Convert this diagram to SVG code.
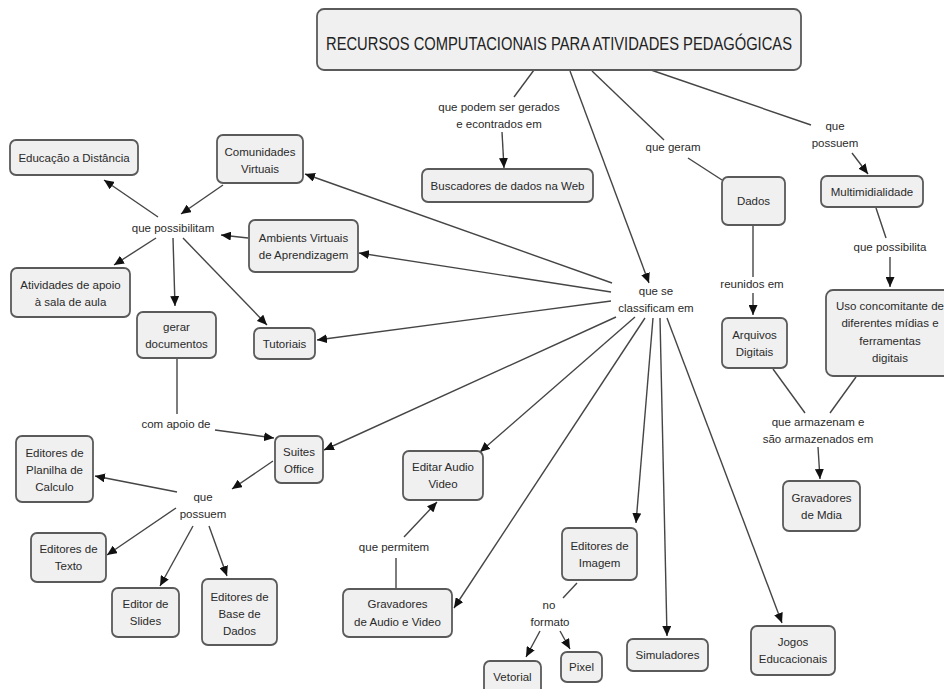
<svg xmlns="http://www.w3.org/2000/svg" width="944" height="689" viewBox="0 0 944 689">
<style>
.n rect{fill:#f0f0f0;stroke:#5a5a5a;stroke-width:1.8}
text{font-family:"Liberation Sans",Arial,sans-serif;font-size:11.5px;fill:#2a2a2a;text-anchor:middle}
.t{font-size:18px;fill:#222}
.c line{stroke:#454545;stroke-width:1.4;fill:none}
.c .a{marker-end:url(#ar)}
</style>
<defs>
<marker id="ar" markerUnits="userSpaceOnUse" markerWidth="11" markerHeight="9" refX="10" refY="4.5" orient="auto">
<path d="M0,0 L10,4.5 L0,9 z" fill="#111"/>
</marker>
</defs>
<rect width="944" height="689" fill="#fff"/>
<g class="c" id="connectors">
<line x1="534" y1="70" x2="514" y2="97"/>
<line class="a" x1="502" y1="132" x2="504" y2="168"/>
<line class="a" x1="570" y1="71" x2="649" y2="283"/>
<line x1="592" y1="71" x2="664" y2="140"/>
<line x1="688" y1="158" x2="722" y2="180"/>
<line x1="651" y1="70" x2="811" y2="125"/>
<line class="a" x1="852" y1="153" x2="868" y2="174"/>
<line x1="753" y1="225" x2="753" y2="277"/>
<line class="a" x1="753" y1="293" x2="753" y2="315"/>
<line x1="876" y1="208" x2="886" y2="238"/>
<line class="a" x1="890" y1="257" x2="890" y2="287"/>
<line x1="773" y1="369" x2="805" y2="413"/>
<line x1="856" y1="377" x2="830" y2="413"/>
<line class="a" x1="818" y1="447" x2="820" y2="479"/>
<line class="a" x1="612" y1="283" x2="305" y2="174"/>
<line class="a" x1="611" y1="292" x2="359" y2="253"/>
<line class="a" x1="611" y1="301" x2="317" y2="340"/>
<line class="a" x1="616" y1="317" x2="324" y2="450"/>
<line class="a" x1="635" y1="317" x2="480" y2="452"/>
<line class="a" x1="645" y1="318" x2="454" y2="608"/>
<line class="a" x1="653" y1="318" x2="636" y2="523"/>
<line class="a" x1="660" y1="318" x2="667" y2="636"/>
<line class="a" x1="667" y1="318" x2="782" y2="623"/>
<line class="a" x1="223" y1="185" x2="181" y2="214"/>
<line class="a" x1="158" y1="217" x2="104" y2="180"/>
<line class="a" x1="248" y1="238" x2="221" y2="235"/>
<line class="a" x1="156" y1="238" x2="114" y2="265"/>
<line class="a" x1="173" y1="238" x2="175" y2="306"/>
<line class="a" x1="183" y1="238" x2="267" y2="325"/>
<line x1="177" y1="358" x2="177" y2="414"/>
<line class="a" x1="215" y1="430" x2="274" y2="438"/>
<line class="a" x1="273" y1="461" x2="232" y2="489"/>
<line class="a" x1="177" y1="492" x2="95" y2="476"/>
<line class="a" x1="176" y1="508" x2="107" y2="555"/>
<line class="a" x1="193" y1="526" x2="160" y2="586"/>
<line class="a" x1="209" y1="526" x2="227" y2="576"/>
<line x1="396" y1="589" x2="396" y2="558"/>
<line class="a" x1="404" y1="537" x2="437" y2="502"/>
<line x1="577" y1="583" x2="563" y2="598"/>
<line class="a" x1="540" y1="631" x2="526" y2="657"/>
<line class="a" x1="560" y1="631" x2="570" y2="649"/>
</g>
<g id="title" class="n"><rect x="317" y="9" width="484" height="61" rx="7"/><text class="t" x="559" y="50" textLength="466" lengthAdjust="spacingAndGlyphs">RECURSOS COMPUTACIONAIS PARA ATIVIDADES PEDAGÓGICAS</text></g>
<g id="educacao" class="n"><rect x="10" y="140" width="128" height="35" rx="6"/><text x="74" y="162">Educação a Distância</text></g>
<g id="comunidades" class="n"><rect x="217" y="135" width="86" height="48" rx="6"/><text x="260" y="156">Comunidades<tspan x="260" dy="16.5">Virtuais</tspan></text></g>
<g id="buscadores" class="n"><rect x="422" y="169" width="171" height="33" rx="6"/><text x="507.5" y="190">Buscadores de dados na Web</text></g>
<g id="dados" class="n"><rect x="722" y="177" width="63" height="48" rx="6"/><text x="753.5" y="205">Dados</text></g>
<g id="multimidialidade" class="n"><rect x="821" y="176" width="102" height="31" rx="6"/><text x="872" y="196">Multimidialidade</text></g>
<g id="ambients" class="n"><rect x="249" y="220" width="109" height="52" rx="6"/><text x="303.5" y="242">Ambients Virtuais<tspan x="303.5" dy="17">de Aprendizagem</tspan></text></g>
<g id="atividades" class="n"><rect x="11" y="268" width="119" height="49" rx="6"/><text x="70.5" y="289">Atividades de apoio<tspan x="70.5" dy="17">à sala de aula</tspan></text></g>
<g id="gerar" class="n"><rect x="137" y="312" width="79" height="46" rx="6"/><text x="176.5" y="331">gerar<tspan x="176.5" dy="17">documentos</tspan></text></g>
<g id="tutoriais" class="n"><rect x="254" y="328" width="61" height="31" rx="6"/><text x="284.5" y="348">Tutoriais</text></g>
<g id="arquivos" class="n"><rect x="722" y="318" width="65" height="50" rx="6"/><text x="754.5" y="339">Arquivos<tspan x="754.5" dy="17">Digitais</tspan></text></g>
<g id="uso" class="n"><rect x="826" y="290" width="128" height="86" rx="7"/><text x="890" y="310">Uso concomitante de<tspan x="890" dy="17.3">diferentes mídias e</tspan><tspan x="890" dy="17.3">ferramentas</tspan><tspan x="890" dy="17.3">digitais</tspan></text></g>
<g id="suites" class="n"><rect x="275" y="436" width="48" height="47" rx="6"/><text x="299" y="456">Suites<tspan x="299" dy="16.5">Office</tspan></text></g>
<g id="planilha" class="n"><rect x="16" y="436" width="77" height="66" rx="6"/><text x="54.5" y="457">Editores de<tspan x="54.5" dy="17">Planilha de</tspan><tspan x="54.5" dy="17">Calculo</tspan></text></g>
<g id="editar-audio" class="n"><rect x="403" y="451" width="80" height="49" rx="6"/><text x="443" y="471">Editar Audio<tspan x="443" dy="16.5">Video</tspan></text></g>
<g id="texto" class="n"><rect x="31" y="533" width="75" height="49" rx="6"/><text x="68.5" y="553">Editores de<tspan x="68.5" dy="17">Texto</tspan></text></g>
<g id="slides" class="n"><rect x="112" y="588" width="67" height="49" rx="6"/><text x="145.5" y="608">Editor de<tspan x="145.5" dy="17">Slides</tspan></text></g>
<g id="base-dados" class="n"><rect x="202" y="579" width="75" height="66" rx="6"/><text x="239.5" y="601">Editores de<tspan x="239.5" dy="17">Base de</tspan><tspan x="239.5" dy="17">Dados</tspan></text></g>
<g id="gravadores-av" class="n"><rect x="343" y="589" width="109" height="48" rx="6"/><text x="397.5" y="608">Gravadores<tspan x="397.5" dy="17.5">de Audio e Video</tspan></text></g>
<g id="editores-imagem" class="n"><rect x="562" y="528" width="75" height="52" rx="6"/><text x="599.5" y="550">Editores de<tspan x="599.5" dy="17">Imagem</tspan></text></g>
<g id="vetorial" class="n"><rect x="484" y="661" width="57" height="35" rx="6"/><text x="512.5" y="681">Vetorial</text></g>
<g id="pixel" class="n"><rect x="561" y="652" width="41" height="30" rx="6"/><text x="581.5" y="671">Pixel</text></g>
<g id="simuladores" class="n"><rect x="627" y="639" width="81" height="32" rx="6"/><text x="667.5" y="659">Simuladores</text></g>
<g id="jogos" class="n"><rect x="751" y="626" width="84" height="49" rx="6"/><text x="793" y="646">Jogos<tspan x="793" dy="17">Educacionais</tspan></text></g>
<g id="gravadores-midia" class="n"><rect x="783" y="481" width="77" height="50" rx="6"/><text x="821.5" y="502">Gravadores<tspan x="821.5" dy="17">de Mdia</tspan></text></g>
<g id="labels">
<text x="499" y="111">que podem ser gerados<tspan x="499" dy="17">e econtrados em</tspan></text>
<text x="173" y="232">que possibilitam</text>
<text x="673" y="151">que geram</text>
<text x="835" y="130">que<tspan x="835" dy="17">possuem</tspan></text>
<text x="890" y="251">que possibilita</text>
<text x="656" y="295">que se<tspan x="656" dy="17">classificam em</tspan></text>
<text x="752" y="288">reunidos em</text>
<text x="818" y="426">que armazenam e<tspan x="818" dy="16.5">são armazenados em</tspan></text>
<text x="176" y="428">com apoio de</text>
<text x="203" y="501">que<tspan x="203" dy="17">possuem</tspan></text>
<text x="394" y="551">que permitem</text>
<text x="549" y="609">no<tspan x="550" dy="17">formato</tspan></text>
</g>
</svg>
